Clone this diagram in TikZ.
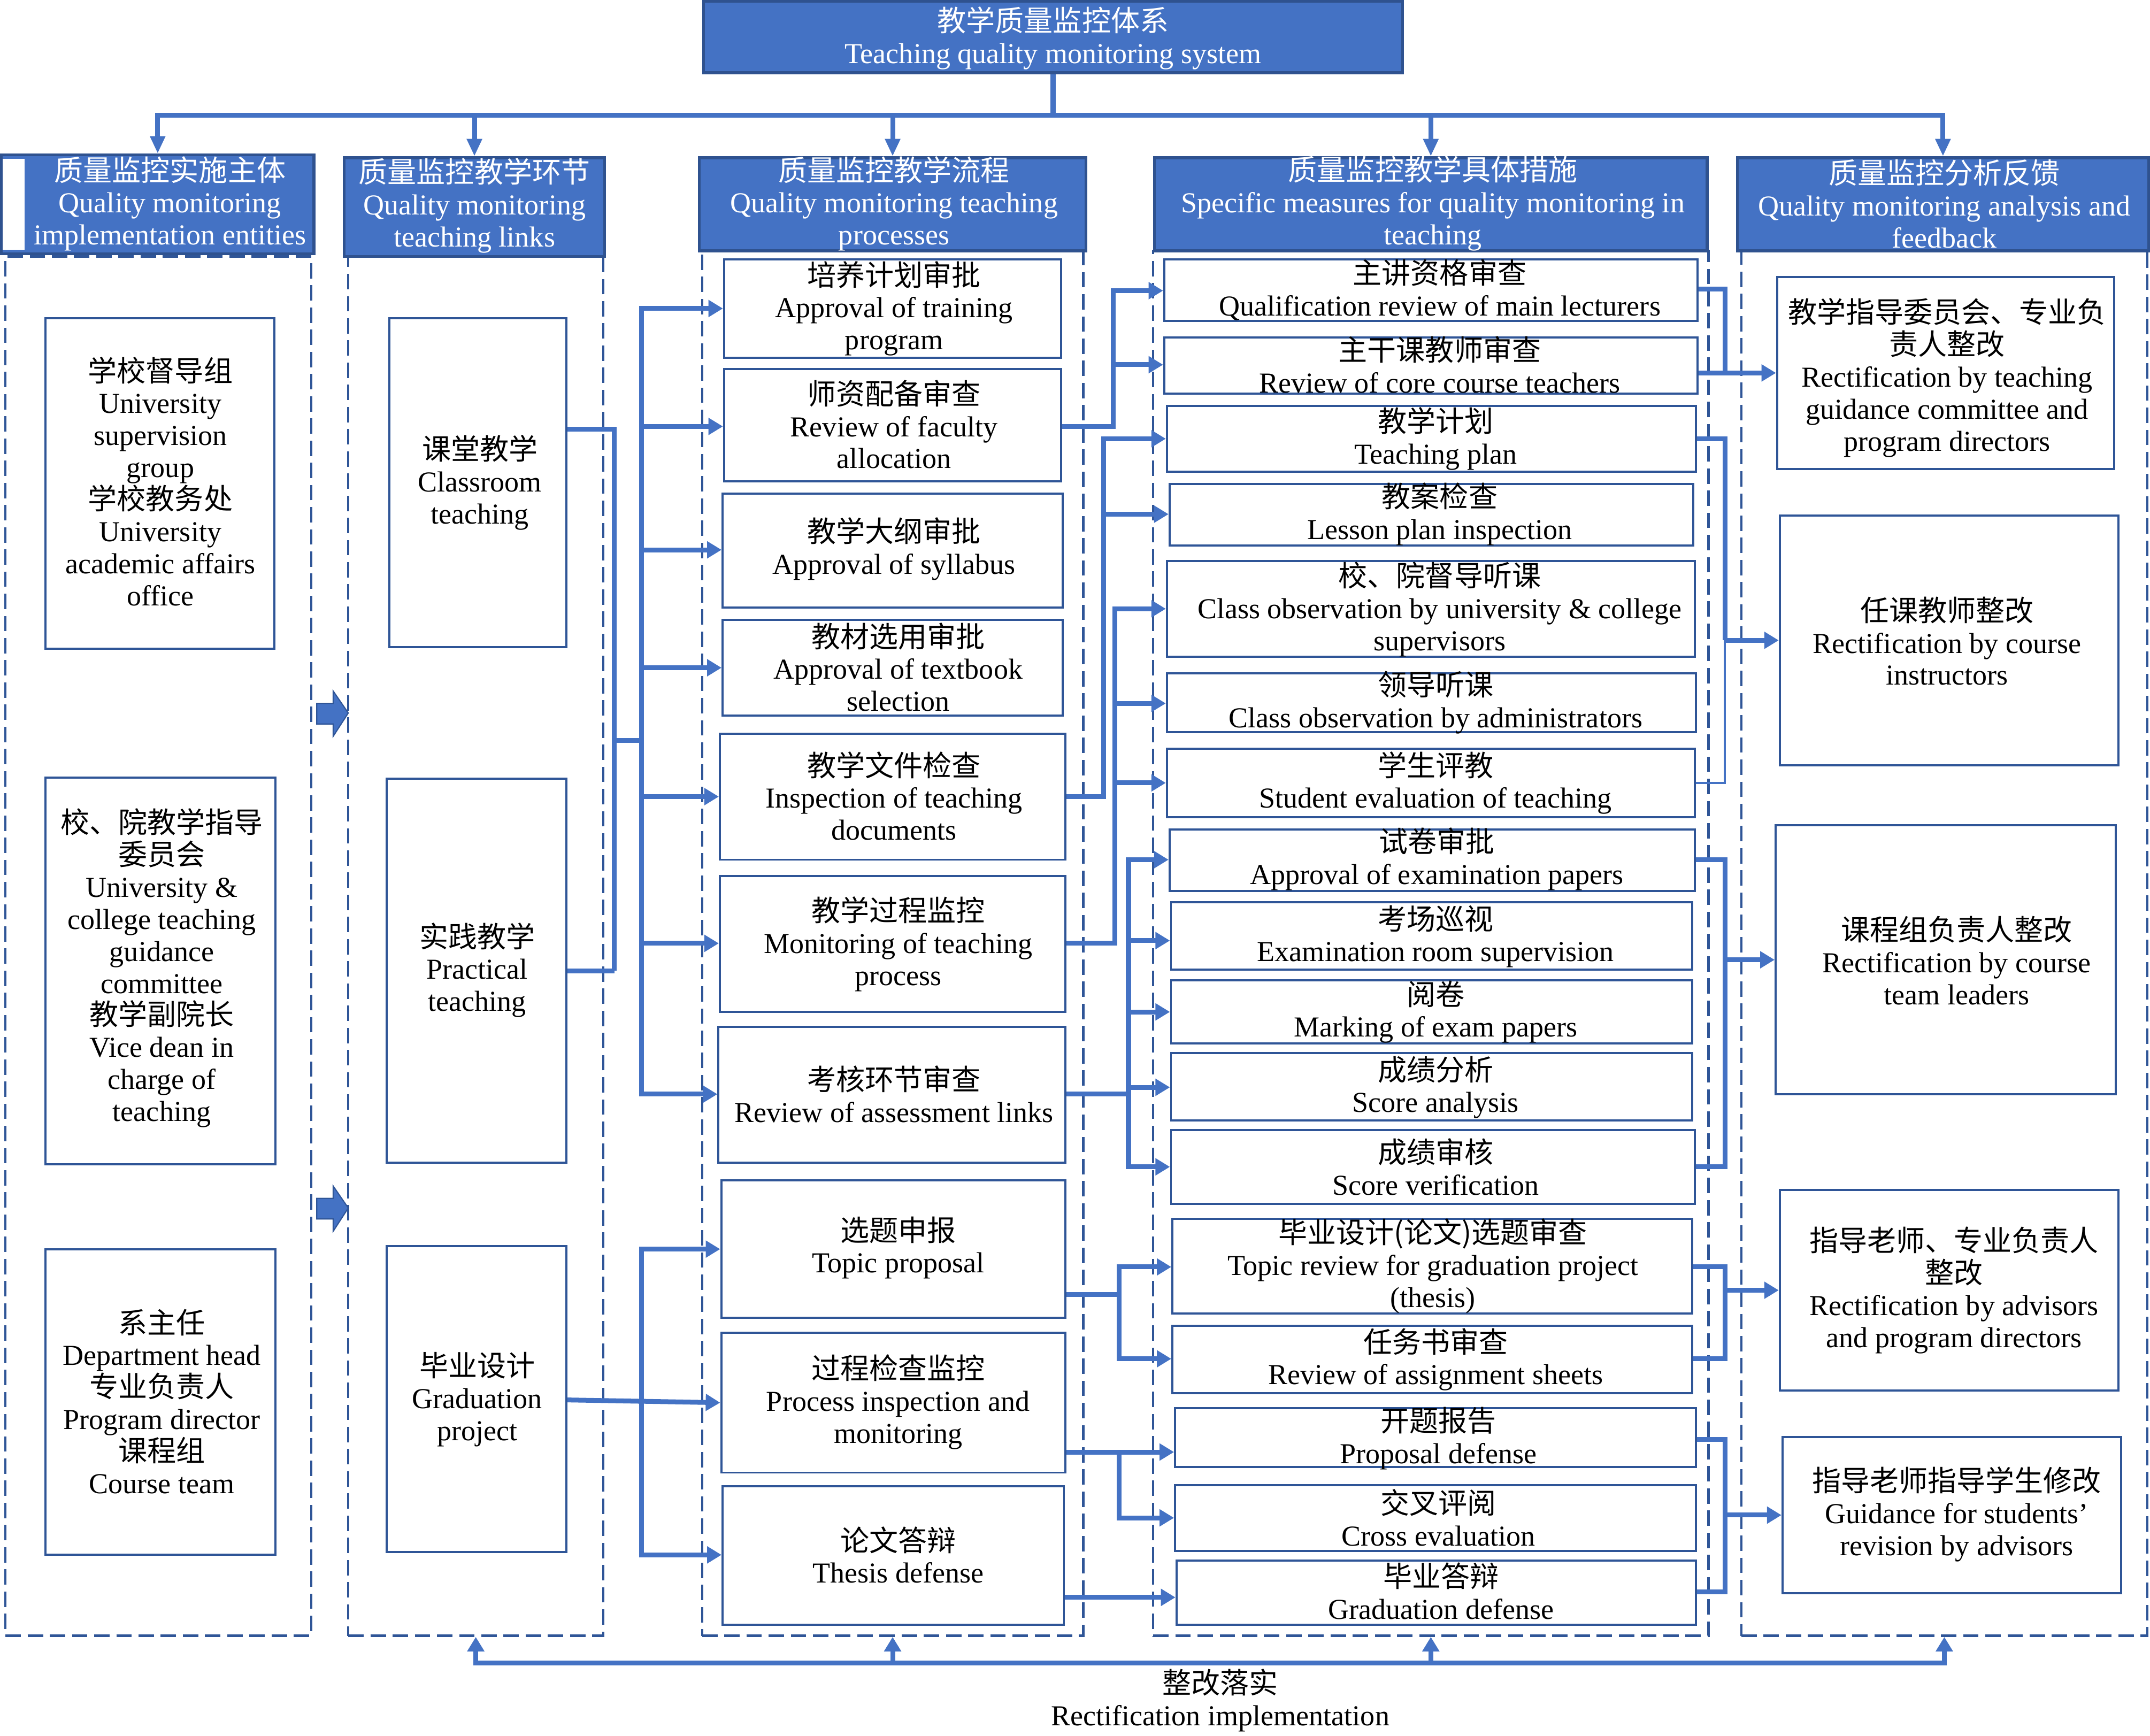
\documentclass[tikz,border=0pt]{standalone}
\usepackage{fontspec}
\setmainfont{Liberation Serif}
\newfontfamily\cjk{Noto Sans CJK SC}
\usetikzlibrary{arrows.meta,fit}
\definecolor{hblue}{HTML}{4472C4}
\definecolor{hdark}{HTML}{2F528F}
\definecolor{bdark}{HTML}{2F5597}
\definecolor{cblue}{HTML}{4472C4}
\begin{document}
\begin{tikzpicture}[x=0.025cm,y=-0.025cm,
 hdr/.style={draw=hdark,fill=hblue,line width=1.5pt,inner sep=0pt},
 box/.style={draw=bdark,fill=white,line width=1.1pt,inner sep=0pt},
 cont/.style={draw=bdark,line width=1.2pt,dash pattern=on 8pt off 3.5pt,inner sep=0pt},
 txt/.style={align=center,inner sep=0pt,font=\fontsize{15}{16.6}\selectfont},
 htxt/.style={txt,text=white},
 conn/.style={draw=cblue,line width=2.5pt},
 thinconn/.style={draw=cblue,line width=1pt},
 arr/.style={conn,-{Triangle[length=7.5pt,width=8.5pt]}},
 tarr/.style={conn,-{Triangle[length=9pt,width=7.5pt]}},
 blk/.style={fill=hblue,draw=bdark,line width=0.6pt}]
\useasboundingbox[fill=white] (0,0) rectangle (1568,1266);

% containers
\node[cont,fit={(4,187)(227,1193)}] (C1) {};
\node[cont,fit={(254,187)(440,1193)}] (C2) {};
\node[cont,fit={(512,183)(790,1193)}] (C3) {};
\node[cont,fit={(841,183)(1246,1193)}] (C4) {};
\node[cont,fit={(1270,183)(1566,1193)}] (C5) {};

% top and headers
\node[hdr,fit={(513,1)(1023,53)}] (top) {};
\node[htxt] (topt) at (768,28) {{\cjk 教学质量监控体系}\\Teaching quality monitoring system};
\node[hdr,fit={(1,113)(229,185)}] (H1) {};
\fill[white] (2,116) rectangle (18,182);
\node[hdr,fit={(251,115)(441,187)}] (H2) {};
\node[hdr,fit={(510,115)(792,183)}] (H3) {};
\node[hdr,fit={(842,115)(1245,183)}] (H4) {};
\node[hdr,fit={(1267,115)(1567,183)}] (H5) {};
\node[htxt] (H1t) at (124,148.5) {{\cjk 质量监控实施主体}\\Quality monitoring\\implementation entities};
\node[htxt] (H2t) at (346,150) {{\cjk 质量监控教学环节}\\Quality monitoring\\teaching links};
\node[htxt] (H3t) at (652,148.5) {{\cjk 质量监控教学流程}\\Quality monitoring teaching\\processes};
\node[htxt] (H4t) at (1045,148.5) {{\cjk 质量监控教学具体措施}\\Specific measures for quality monitoring in\\teaching};
\node[htxt] (H5t) at (1418,148.5) {{\cjk 质量监控分析反馈}\\Quality monitoring analysis and\\feedback};

% column 1
\node[box,fit={(33,232)(200,473)}] (E1) {};
\node[box,fit={(33,567)(201,849)}] (E2) {};
\node[box,fit={(33,911)(201,1134)}] (E3) {};
\node[txt] (E1t) at (117,351) {{\cjk 学校督导组}\\University\\supervision\\group\\{\cjk 学校教务处}\\University\\academic affairs\\office};
\node[txt] (E2t) at (118,706) {{\cjk 校、院教学指导}\\{\cjk 委员会}\\University \&\\college teaching\\guidance\\committee\\{\cjk 教学副院长}\\Vice dean in\\charge of\\teaching};
\node[txt] (E3t) at (118,1022) {{\cjk 系主任}\\Department head\\{\cjk 专业负责人}\\Program director\\{\cjk 课程组}\\Course team};

% column 2
\node[box,fit={(284,232)(413,472)}] (L1) {};
\node[box,fit={(282,568)(413,848)}] (L2) {};
\node[box,fit={(282,909)(413,1132)}] (L3) {};
\node[txt] (L1t) at (350,352) {{\cjk 课堂教学}\\Classroom\\teaching};
\node[txt] (L2t) at (348,707.5) {{\cjk 实践教学}\\Practical\\teaching};
\node[txt] (L3t) at (348,1020.5) {{\cjk 毕业设计}\\Graduation\\project};

% column 3
\node[box,fit={(528,189)(774,261)}] (P1) {};
\node[box,fit={(528,269)(774,351)}] (P2) {};
\node[box,fit={(527,360)(775,443)}] (P3) {};
\node[box,fit={(527,452)(775,522)}] (P4) {};
\node[box,fit={(525,535)(777,627)}] (P5) {};
\node[box,fit={(525,639)(777,738)}] (P6) {};
\node[box,fit={(524,749)(777,848)}] (P7) {};
\node[box,fit={(526,861)(777,961)}] (P8) {};
\node[box,fit={(526,972)(777,1074)}] (P9) {};
\node[box,fit={(527,1084)(776,1185)}] (P10) {};
\node[txt] (P1t) at (652,225) {{\cjk 培养计划审批}\\Approval of training\\program};
\node[txt] (P2t) at (652,309.5) {{\cjk 师资配备审查}\\Review of faculty\\allocation};
\node[txt] (P3t) at (652,400.5) {{\cjk 教学大纲审批}\\Approval of syllabus};
\node[txt] (P4t) at (655,486.5) {{\cjk 教材选用审批}\\Approval of textbook\\selection};
\node[txt] (P5t) at (652,580.5) {{\cjk 教学文件检查}\\Inspection of teaching\\documents};
\node[txt] (P6t) at (655,688.5) {{\cjk 教学过程监控}\\Monitoring of teaching\\process};
\node[txt] (P7t) at (652,798) {{\cjk 考核环节审查}\\Review of assessment links};
\node[txt] (P8t) at (655,910) {{\cjk 选题申报}\\Topic proposal};
\node[txt] (P9t) at (655,1022.5) {{\cjk 过程检查监控}\\Process inspection and\\monitoring};
\node[txt] (P10t) at (655,1134) {{\cjk 论文答辩}\\Thesis defense};

% column 4
\node[box,fit={(849,189)(1238,234)}] (M1) {};
\node[box,fit={(849,246)(1238,287)}] (M2) {};
\node[box,fit={(851,296)(1237,344)}] (M3) {};
\node[box,fit={(853,353)(1235,398)}] (M4) {};
\node[box,fit={(851,409)(1236,479)}] (M5) {};
\node[box,fit={(851,491)(1237,534)}] (M6) {};
\node[box,fit={(851,546)(1236,596)}] (M7) {};
\node[box,fit={(853,605)(1236,650)}] (M8) {};
\node[box,fit={(854,658)(1234,707)}] (M9) {};
\node[box,fit={(854,715)(1234,761)}] (M10) {};
\node[box,fit={(854,768)(1234,817)}] (M11) {};
\node[box,fit={(854,824)(1236,878)}] (M12) {};
\node[box,fit={(855,889)(1234,958)}] (M13) {};
\node[box,fit={(855,967)(1234,1016)}] (M14) {};
\node[box,fit={(857,1027)(1237,1070)}] (M15) {};
\node[box,fit={(857,1083)(1237,1131)}] (M16) {};
\node[box,fit={(858,1138)(1237,1185)}] (M17) {};
\node[txt] (M1t) at (1050,211.5) {{\cjk 主讲资格审查}\\Qualification review of main lecturers};
\node[txt] (M2t) at (1050,266) {{\cjk 主干课教师审查}\\Review of core course teachers};
\node[txt] (M3t) at (1047,320) {{\cjk 教学计划}\\Teaching plan};
\node[txt] (M4t) at (1050,375) {{\cjk 教案检查}\\Lesson plan inspection};
\node[txt] (M5t) at (1050,444.5) {{\cjk 校、院督导听课}\\Class observation by university \& college\\supervisors};
\node[txt] (M6t) at (1047,512.5) {{\cjk 领导听课}\\Class observation by administrators};
\node[txt] (M7t) at (1047,571) {{\cjk 学生评教}\\Student evaluation of teaching};
\node[txt] (M8t) at (1048,626.5) {{\cjk 试卷审批}\\Approval of examination papers};
\node[txt] (M9t) at (1047,683) {{\cjk 考场巡视}\\Examination room supervision};
\node[txt] (M10t) at (1047,738) {{\cjk 阅卷}\\Marking of exam papers};
\node[txt] (M11t) at (1047,793) {{\cjk 成绩分析}\\Score analysis};
\node[txt] (M12t) at (1047,851) {{\cjk 成绩审核}\\Score verification};
\node[txt] (M13t) at (1045,923.5) {{\cjk 毕业设计(论文)选题审查}\\Topic review for graduation project\\(thesis)};
\node[txt] (M14t) at (1047,991.5) {{\cjk 任务书审查}\\Review of assignment sheets};
\node[txt] (M15t) at (1049,1049) {{\cjk 开题报告}\\Proposal defense};
\node[txt] (M16t) at (1049,1107) {{\cjk 交叉评阅}\\Cross evaluation};
\node[txt] (M17t) at (1051,1160.5) {{\cjk 毕业答辩}\\Graduation defense};

% column 5
\node[box,fit={(1296,202)(1542,342)}] (F1) {};
\node[box,fit={(1298,376)(1545,558)}] (F2) {};
\node[box,fit={(1295,602)(1543,798)}] (F3) {};
\node[box,fit={(1298,868)(1545,1014)}] (F4) {};
\node[box,fit={(1300,1048)(1547,1162)}] (F5) {};
\node[txt] (F1t) at (1420,275.5) {{\cjk 教学指导委员会、专业负}\\{\cjk 责人整改}\\Rectification by teaching\\guidance committee and\\program directors};
\node[txt] (F2t) at (1420,467.5) {{\cjk 任课教师整改}\\Rectification by course\\instructors};
\node[txt] (F3t) at (1427,700.5) {{\cjk 课程组负责人整改}\\Rectification by course\\team leaders};
\node[txt] (F4t) at (1425,941) {{\cjk 指导老师、专业负责人}\\{\cjk 整改}\\Rectification by advisors\\and program directors};
\node[txt] (F5t) at (1427,1104.5) {{\cjk 指导老师指导学生修改}\\Guidance for students’\\revision by advisors};

\node[txt] (Bt) at (890,1240) {{\cjk 整改落实}\\Rectification implementation};

% top connectors
\coordinate (bus) at (768,84);
\draw[conn] (top.south) -- (bus);
\draw[tarr] (bus) -| (H1.north);
\draw[tarr] (bus) -| (H5.north);
\draw[tarr] (H2.north |- bus) -- (H2.north);
\draw[tarr] (H3.north |- bus) -- (H3.north);
\draw[tarr] (H4.north |- bus) -- (H4.north);

% block arrows between column 1 and 2
\filldraw[blk] (231,513) -- (243,513) -- (243,504) -- (254,520) -- (243,537) -- (243,528) -- (231,528) -- cycle;
\filldraw[blk] (231,874) -- (243,874) -- (243,865) -- (254,881) -- (243,898) -- (243,889) -- (231,889) -- cycle;

% column 2 -> column 3
\draw[conn] (L1.east |- 0,313) -- (448,313) -- (448,708);
\draw[conn] (L2.east |- 0,708) -- (448,708);
\draw[conn] (448,540) -- (468,540);
\draw[arr] (468,540) |- (P1.west |- 0,225);
\draw[arr] (468,540) |- (P7.west |- 0,798);
\draw[arr] (468,311) -- (P2.west |- 0,311);
\draw[arr] (468,401) -- (P3.west |- 0,401);
\draw[arr] (468,487) -- (P4.west |- 0,487);
\draw[arr] (468,581) -- (P5.west |- 0,581);
\draw[arr] (468,688) -- (P6.west |- 0,688);
\draw[arr] (L3.east |- 0,1021) -- (P9.west |- 0,1023);
\draw[arr] (468,1022) |- (P8.west |- 0,911);
\draw[arr] (468,1022) |- (P10.west |- 0,1134);

% column 3 -> column 4
\draw[arr] (P2.east |- 0,311) -| (812,212) -- (M1.west |- 0,212);
\draw[arr] (812,266) -- (M2.west |- 0,266);
\draw[arr] (P5.east |- 0,581) -| (805,320) -- (M3.west |- 0,320);
\draw[arr] (805,375) -- (M4.west |- 0,375);
\draw[arr] (P6.east |- 0,688) -| (813,444) -- (M5.west |- 0,444);
\draw[arr] (813,513) -- (M6.west |- 0,513);
\draw[arr] (813,571) -- (M7.west |- 0,571);
\draw[conn] (P7.east |- 0,798) -- (823,798);
\draw[arr] (823,798) |- (M8.west |- 0,627);
\draw[arr] (823,798) |- (M12.west |- 0,851);
\draw[arr] (823,686) -- (M9.west |- 0,686);
\draw[arr] (823,738) -- (M10.west |- 0,738);
\draw[arr] (823,793) -- (M11.west |- 0,793);
\draw[arr] (P8.east |- 0,944) -| (816,924) -- (M13.west |- 0,924);
\draw[arr] (816,944) |- (M14.west |- 0,991);
\draw[arr] (P9.east |- 0,1059) -- (M15.west |- 0,1059);
\draw[arr] (816,1059) |- (M16.west |- 0,1107);
\draw[arr] (P10.east |- 0,1165) -- (M17.west |- 0,1165);

% column 4 -> column 5
\draw[conn] (M1.east |- 0,211) -| (1258,272);
\draw[arr] (M2.east |- 0,272) -- (F1.west |- 0,272);
\draw[conn] (M3.east |- 0,320) -| (1258,467);
\draw[thinconn] (M7.east |- 0,571) -| (1258,467);
\draw[arr] (1258,467) -- (F2.west |- 0,467);
\draw[conn] (M8.east |- 0,627) -| (1258,851) -- (M12.east |- 0,851);
\draw[arr] (1258,700) -- (F3.west |- 0,700);
\draw[conn] (M13.east |- 0,924) -| (1258,991) -- (M14.east |- 0,991);
\draw[arr] (1258,941) -- (F4.west |- 0,941);
\draw[conn] (M15.east |- 0,1050) -| (1258,1161) -- (M17.east |- 0,1161);
\draw[arr] (1258,1105) -- (F5.west |- 0,1105);

% bottom feedback
\coordinate (fb) at (651,1213);
\draw[arr] (fb) -| (C2.south);
\draw[arr] (fb) -- (C3.south);
\draw[conn] (fb) -- (C4.south |- fb);
\draw[arr] (C4.south |- fb) -- (C4.south);
\draw[arr] (C4.south |- fb) -| (C5.south);
\end{tikzpicture}
\end{document}
